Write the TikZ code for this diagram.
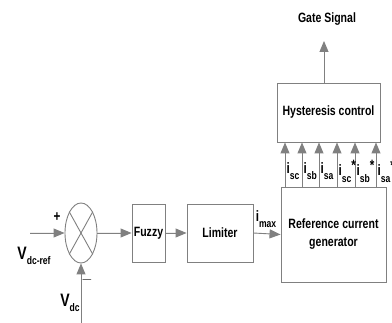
\documentclass[tikz,border=0pt]{standalone}
\usepackage{fontspec}
\setmainfont{Liberation Sans}[FakeStretch=0.78]
\usetikzlibrary{arrows.meta,shapes.geometric}
\definecolor{linegray}{RGB}{128,128,128}
\newcommand\curlab[2]{\fontsize{15}{15}\selectfont i\raisebox{-0.8ex}{\fontsize{11}{11}\selectfont #1}\raisebox{0.7ex}{#2}}

\tikzset{
  blk/.style={draw=linegray, line width=0.9pt, align=center, inner sep=1pt},
  arr/.style={draw=linegray, line width=0.9pt, -{Triangle[length=11pt,width=9pt]}, fill=linegray},
  sumj/.style={ellipse, draw=linegray, line width=0.9pt, minimum width=32pt, minimum height=60pt, inner sep=0pt}
}

\begin{document}
\begin{tikzpicture}[x=1pt,y=-1pt, font=\bfseries\fontsize{13.5}{18}\selectfont]
	\useasboundingbox (0,0) rectangle (392,323);
	
	% summing junction
	\node[sumj] (sum) at (81,233) {};
	\draw[linegray, line width=0.9pt] (sum.61) -- (sum.241);
	\draw[linegray, line width=0.9pt] (sum.119) -- (sum.299);
	
	% blocks
	\node[blk, minimum width=33pt, minimum height=58pt] (fuzzy) at (148.5,233) {Fuzzy};
	\node[blk, minimum width=66pt, minimum height=58pt] (lim) at (220,233) {Limiter};
	\node[blk, minimum width=105pt, minimum height=95pt] (ref) at (333.5,234.5) {Reference current\\generator};
	\node[blk, minimum width=103pt, minimum height=59pt] (hyst) at (328.5,112.5) {Hysteresis control};
	
	\coordinate (vref) at (30,233);
	\coordinate (vdc) at (81,323);
	\coordinate (gate) at (324,41);
	
	% connections
	\draw[arr] (vref) -- (sum.west);
	\draw[arr] (vdc) -- (sum.south);
	\draw[arr] (sum.east) -- (fuzzy.west);
	\draw[arr] (fuzzy.east) -- (lim.west);
	\draw[arr] (lim.east) -- (ref.west);
	\draw[arr] (hyst.north -| gate) -- (gate);
	\foreach \x in {285,302,319,337,355,376}
		\draw[arr] (\x,0 |- ref.north) -- (\x,0 |- hyst.south);
	
	% labels
	\node (gatelab) at (327,19) {Gate Signal};
	\node (imax) at (266,219) {\curlab{max}{}};
	\node[anchor=west, inner sep=0pt] (l1) at (286.5,171) {\curlab{sc}{}};
	\node[anchor=west, inner sep=0pt] (l2) at (303.5,171) {\curlab{sb}{}};
	\node[anchor=west, inner sep=0pt] (l3) at (320.5,171) {\curlab{sa}{}};
	\node[anchor=west, inner sep=0pt] (l4) at (338.5,171) {\curlab{sc}{*}};
	\node[anchor=west, inner sep=0pt] (l5) at (356.5,171) {\curlab{sb}{*}};
	\node[anchor=west, inner sep=0pt] (l6) at (377.5,171) {\curlab{sa}{*}};
	\node (plus) at (57,217) {\fontsize{15}{15}\selectfont +};
	\node (minus) at (87,280) {\fontsize{15}{15}\selectfont $-$};
	\node (vreflab) at (34,256) {\fontsize{18}{18}\selectfont V\raisebox{-0.5ex}{\fontsize{11}{11}\selectfont dc-ref}};
	\node (vdclab) at (70,303) {\fontsize{18}{18}\selectfont V\raisebox{-0.5ex}{\fontsize{11}{11}\selectfont dc}};
\end{tikzpicture}
\end{document}
